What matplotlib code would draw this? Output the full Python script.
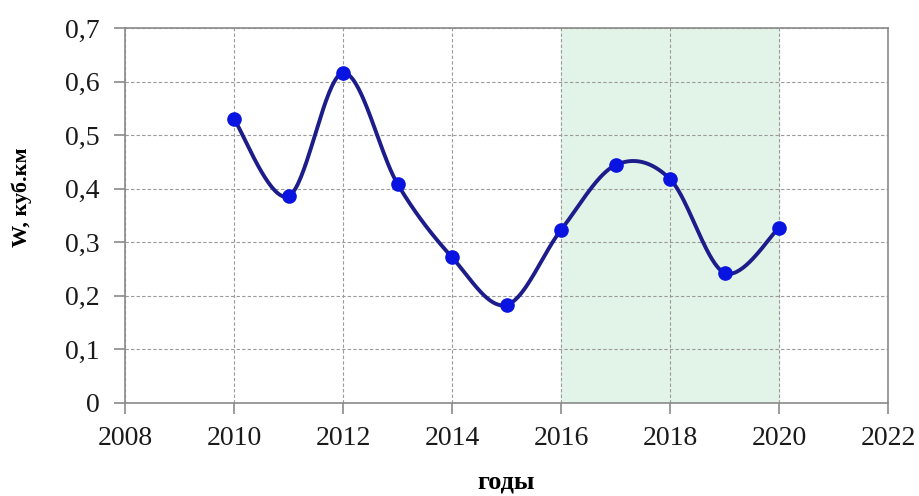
import numpy as np
import matplotlib
matplotlib.use('Agg')
import matplotlib.pyplot as plt
import matplotlib.ticker as mticker

plt.rcParams['font.family'] = ['Liberation Serif', 'DejaVu Serif']

# данные
years = [2010, 2011, 2012, 2013, 2014, 2015, 2016, 2017, 2018, 2019, 2020]
W = [0.530, 0.386, 0.616, 0.409, 0.272, 0.183, 0.323, 0.444, 0.418, 0.243, 0.327]
x_ticks = [2008, 2010, 2012, 2014, 2016, 2018, 2020, 2022]
y_ticks = [0, 0.1, 0.2, 0.3, 0.4, 0.5, 0.6, 0.7]
span = (2016, 2020)


def smooth(x, y, n=40):
    # сглаживание как в Excel (Catmull-Rom)
    x = np.asarray(x, float)
    y = np.asarray(y, float)
    px = np.concatenate([[x[0]], x, [x[-1]]])
    py = np.concatenate([[y[0]], y, [y[-1]]])
    xs, ys = [], []
    t = np.linspace(0, 1, n)
    for i in range(1, len(px) - 2):
        p0, p1, p2, p3 = [np.array([px[j], py[j]]) for j in (i - 1, i, i + 1, i + 2)]
        c1 = p1 + (p2 - p0) / 6
        c2 = p2 - (p3 - p1) / 6
        b = ((1 - t) ** 3)[:, None] * p1 + (3 * (1 - t) ** 2 * t)[:, None] * c1 \
            + (3 * (1 - t) * t ** 2)[:, None] * c2 + (t ** 3)[:, None] * p2
        xs.extend(b[:, 0])
        ys.extend(b[:, 1])
    return xs, ys


fig = plt.figure(figsize=(9.2, 4.96), dpi=100)
ax = fig.add_axes([125 / 920, 1 - 403 / 496, (888 - 125) / 920, (403 - 28) / 496])

ax.axvspan(span[0], span[1], color='#e2f3e8', zorder=0)
ax.grid(True, which='major', axis='both', color='#9a9a9a',
        linestyle=(0, (3, 2)), linewidth=0.8, zorder=1)
ax.set_axisbelow(True)

xs, ys = smooth(years, W)
ax.plot(xs, ys, color='#1c1c8a', linewidth=2.8, zorder=3)
ax.plot(years, W, 'o', color='#0a14e0', markersize=9.5, zorder=4)

ax.set_xlim(2008, 2022)
ax.set_ylim(0, 0.7)
ax.set_xticks(x_ticks)
ax.set_yticks(y_ticks)
ax.yaxis.set_major_formatter(mticker.FuncFormatter(
    lambda v, p: '0' if abs(v) < 1e-9 else ('%.1f' % v).replace('.', ',')))

for s in ax.spines.values():
    s.set_color('#8a8a8a')
    s.set_linewidth(1.2)
ax.tick_params(axis='both', direction='out', length=8, width=1.2, color='#8a8a8a',
               labelsize=20, labelcolor='#1a1a1a')
ax.tick_params(axis='x', pad=8.5)
ax.tick_params(axis='y', pad=10)

ax.set_xlabel('годы', fontsize=19, fontweight='bold', va='baseline')
ax.set_ylabel('W, куб.км', fontsize=16, fontweight='bold', va='center')
ax.xaxis.set_label_coords(0.5, -0.228)
ax.yaxis.set_label_coords(-0.135, 0.549)

fig.savefig('out.png', dpi=100)
